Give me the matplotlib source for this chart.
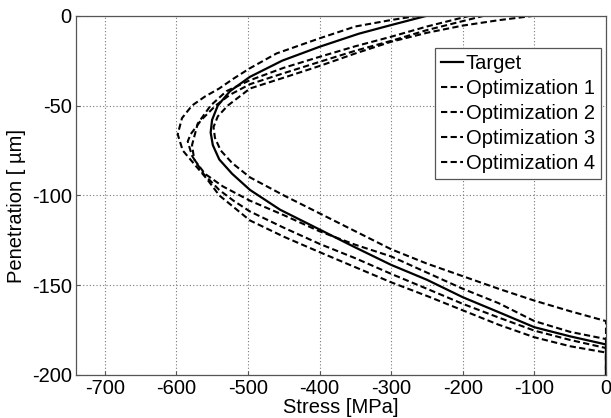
import numpy as np
import matplotlib
matplotlib.use('Agg')
import matplotlib.pyplot as plt

plt.rcParams['font.family'] = ['Liberation Sans', 'DejaVu Sans']
plt.rcParams['axes.unicode_minus'] = False

# Residual stress profiles: depth [um] and stress [MPa]
target_depth = [0, -5.2, -10, -17.3, -25, -34, -42, -50, -58, -65, -72, -80, -88, -97,
                -108, -119, -129, -138.7, -147, -156.7, -165, -173.4, -178.5, -183, -200]
target_stress = [-250, -300, -345, -400, -452, -497, -525, -542, -550, -552, -549, -540, -522, -497,
                 -455, -400, -350, -300, -250, -200, -150, -100, -50, 0, 0]

opt1_depth = [0, -2.4, -6, -12.6, -21, -29.2, -35, -40.5, -45, -50, -57, -66, -75, -83, -91, -100,
              -114, -123, -131.6, -140, -148.4, -156, -164, -172, -179, -184, -187.5, -200]
opt1_stress = [-262, -300, -350, -400, -460, -497, -520, -540, -560, -578, -592, -598, -591, -574, -557, -540,
               -497, -450, -400, -350, -300, -250, -200, -150, -100, -50, 0, 0]

opt2_depth = [0, -3, -6, -11.7, -17, -22.9, -29, -35.9, -42, -50, -60, -72, -80, -88, -95, -103,
              -111, -120, -127.5, -134, -143, -152, -160, -170, -176, -180, -200]
opt2_stress = [-190, -220, -250, -300, -350, -400, -450, -497, -530, -552, -570, -578, -575, -560, -535, -497,
               -450, -400, -350, -300, -250, -200, -150, -100, -50, 0, 0]

opt3_depth = [0, -4, -8, -14, -19.5, -25.7, -32, -38.1, -44, -50, -58, -66, -70, -78, -88, -97, -103,
              -109, -118, -127, -135, -143.7, -152, -160.4, -168, -175.3, -180.5, -185, -200]
opt3_stress = [-170, -210, -250, -300, -350, -400, -450, -497, -525, -545, -565, -580, -584, -578, -562, -540, -520,
               -497, -450, -400, -350, -300, -250, -200, -150, -100, -50, 0, 0]

opt4_depth = [0, -2.5, -5.5, -9.5, -14.5, -21, -28, -34.5, -40.5, -50, -56, -62, -68, -75, -82, -90,
              -100, -110, -120, -130, -138, -145, -152, -158.6, -164.5, -170, -200]
opt4_stress = [-100, -150, -200, -250, -300, -350, -400, -450, -497, -528, -542, -548, -546, -538, -522, -497,
               -450, -400, -350, -300, -250, -200, -150, -100, -50, 0, 0]

labels = ['Target', 'Optimization 1', 'Optimization 2', 'Optimization 3', 'Optimization 4']
xticks = [-700, -600, -500, -400, -300, -200, -100, 0]
yticks = [-200, -150, -100, -50, 0]

fig = plt.figure(figsize=(6.11, 4.18), dpi=100)
ax = fig.add_axes([0.1244, 0.1029, 0.8674, 0.8595])

ax.plot(target_stress, target_depth, color='black', lw=1.6, label=labels[0])
dash = (0, (3, 1.6))
for s, d, lab in [(opt1_stress, opt1_depth, labels[1]), (opt2_stress, opt2_depth, labels[2]),
                  (opt3_stress, opt3_depth, labels[3]), (opt4_stress, opt4_depth, labels[4])]:
    ax.plot(s, d, color='black', lw=1.5, linestyle=dash, label=lab)

ax.set_xlim(-740, 0)
ax.set_ylim(-200, 0)
ax.set_xticks(xticks)
ax.set_yticks(yticks)
ax.grid(True, color='#777777', linestyle=(0, (1, 2)), linewidth=0.8)
ax.tick_params(direction='in', length=3, color='#555555', labelsize=14.5, pad=3)
for sp in ax.spines.values():
    sp.set_color('#555555')
    sp.set_linewidth(0.9)

ax.set_xlabel('Stress [MPa]', fontsize=14.5, labelpad=0)
ax.set_ylabel('Penetration [ µm]', fontsize=14.5)
ax.yaxis.set_label_coords(-0.095, 0.47)

leg = ax.legend(loc='upper right', bbox_to_anchor=(0.9906, 0.910), borderaxespad=0,
                fontsize=14.5, handlelength=1.1, handletextpad=0.12, labelspacing=0.3,
                borderpad=0.3, fancybox=False, framealpha=1, edgecolor='#555555')
leg.get_frame().set_linewidth(0.9)

fig.savefig('out.png', dpi=100)
